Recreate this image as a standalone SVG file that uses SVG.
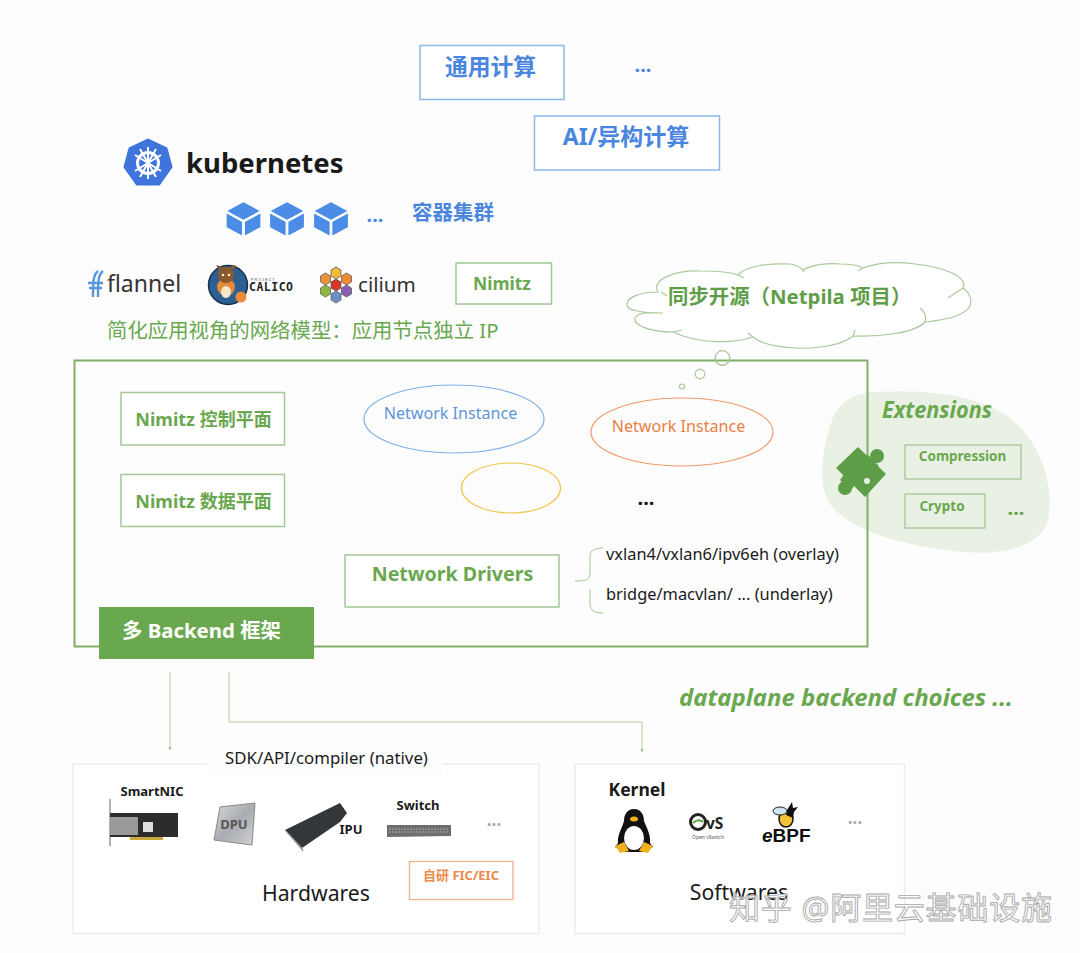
<svg xmlns="http://www.w3.org/2000/svg" width="1080" height="953" viewBox="0 0 1080 953">
<style>
text{font-family:"Noto Sans","Noto Sans CJK SC",sans-serif}
.g{fill:#6aa84f}
.b{fill:#4a86e0}
.bold{font-weight:700}
.bbox{fill:#fff;stroke:#8cb8ea;stroke-width:1.500}
.gbox{fill:#fff;stroke:#a3c795;stroke-width:1.500}
.k{fill:#1a1a1a}
.hw{fill:#fff;stroke:#ececec;stroke-width:1.500}
.cube{fill:#4a8ce6;stroke:#fff;stroke-width:1.200;stroke-linejoin:round}
.cn{fill:none;stroke:#b4cfa6;stroke-width:1}
.cloud{fill:#fff;stroke:#a9c99c;stroke-width:1.200}
.fold{fill:none;stroke:#a9c99c;stroke-width:1.200}
</style>
<defs>
<marker id="arr" viewBox="0 0 6 6" refX="5" refY="3" markerWidth="4" markerHeight="4" orient="auto"><path d="M0 0.500L5 3L0 5.500Z" fill="#93b884"/></marker>
<g id="cubeicon"><path class="cube" d="M0-17.500L17.500-8L0 1.500L-17.500-8Z"/><path class="cube" d="M-17.500-6.500L-0.800 2.500V17.500L-17.500 8.500Z"/><path class="cube" d="M17.500-6.500L0.800 2.500V17.500L17.500 8.500Z"/></g>
<linearGradient id="chip" x1="0" y1="0" x2="1" y2="1"><stop offset="0" stop-color="#d9dadc"/><stop offset="0.500" stop-color="#a9acb0"/><stop offset="1" stop-color="#d0d2d4"/></linearGradient>
</defs>
<rect width="1080" height="953" fill="#fdfdfd"/>

<g id="general-compute"><rect class="bbox" x="420" y="45.500" width="144" height="54"/><text class="b bold" x="490.500" y="75" font-size="22.800" text-anchor="middle">通用计算</text></g>
<g id="top-dots"><text class="b bold" x="643" y="72" font-size="20" text-anchor="middle">...</text></g>
<g id="ai-compute"><rect class="bbox" x="534.500" y="116" width="185" height="54"/><text class="b bold" x="626" y="145" font-size="23" text-anchor="middle">AI/异构计算</text></g>

<g id="kubernetes">
<path d="M148 140L166 148.500L171 167L159 184H137L125 167L130 148.500Z" fill="#3f74dc" stroke="#3f74dc" stroke-width="3" stroke-linejoin="round"/>
<g stroke="#fff" fill="none" stroke-width="2"><circle cx="148" cy="163" r="10.500" stroke-width="3"/><path d="M148 147V179M135 155L161 171M161 155L135 171M140 149L156 177M156 149L140 177"/></g>
<text class="k bold" x="186" y="173" font-size="27.500">kubernetes</text>
</g>
<g id="containers">
<use href="#cubeicon" x="243.500" y="219"/><use href="#cubeicon" x="287" y="219"/><use href="#cubeicon" x="331" y="219"/>
<text class="b bold" x="375" y="222" font-size="20" text-anchor="middle">...</text>
<text class="b bold" x="453" y="220" font-size="20.500" text-anchor="middle">容器集群</text>
</g>

<g id="flannel">
<path d="M98 271C93 275 93 282 93 297M103 271C98 275 98 282 98 297M88 283H103M89 288H102" fill="none" stroke="#5a96dc" stroke-width="2.400"/>
<text x="107" y="292" font-size="23" fill="#333">flannel</text>
</g>
<g id="calico">
<circle cx="228" cy="285" r="19.500" fill="#2d5f93" stroke="#14304e" stroke-width="1.500"/>
<circle cx="226" cy="287" r="9" fill="#e58b3a"/><circle cx="226" cy="275" r="8" fill="#8a5a2c"/><path d="M219 270l-3-5 7 2zM233 270l3-5-7 2z" fill="#8a5a2c"/><ellipse cx="226" cy="292" rx="5" ry="6" fill="#f5e6cc"/><circle cx="223" cy="275" r="1.200" fill="#fff"/><circle cx="229" cy="275" r="1.200" fill="#fff"/>
<circle cx="241" cy="297" r="5.500" fill="#ec8a3b"/>
<text x="249" y="291" font-size="11.500" font-weight="700" fill="#222" style="font-family:'DejaVu Sans Mono',monospace" textLength="44">CALICO</text>
<text x="251" y="281" font-size="3.500" fill="#444" style="font-family:'Liberation Sans',sans-serif" letter-spacing="1.200">PROJECT</text>
</g>
<g id="cilium" stroke="#555" stroke-width="0.700">
<path d="M336 267l5 3v6l-5 3-5-3v-6z" fill="#f0b93a"/>
<path d="M325.500 273l5 3v6l-5 3-5-3v-6z" fill="#e8923a"/>
<path d="M346.500 273l5 3v6l-5 3-5-3v-6z" fill="#ee8a33"/>
<path d="M336 279l5 3v6l-5 3-5-3v-6z" fill="#d8352c"/>
<path d="M325.500 285l5 3v6l-5 3-5-3v-6z" fill="#8db83d"/>
<path d="M346.500 285l5 3v6l-5 3-5-3v-6z" fill="#8a5fb0"/>
<path d="M336 291l5 3v6l-5 3-5-3v-6z" fill="#6c8fc4"/>
<text x="358" y="292" font-size="20.600" fill="#333" stroke="none">cilium</text>
</g>
<g id="nimitz-tag"><rect class="gbox" x="456" y="263" width="95.500" height="41"/><text class="g bold" x="502" y="290" font-size="17.500" text-anchor="middle">Nimitz</text></g>
<g id="app-model"><text class="g" x="107" y="338" font-size="20.400">简化应用视角的网络模型：应用节点独立 IP</text></g>

<g id="cloud">
<path class="cloud" d="M663 313C640 313 626 310 627 304C628 297 640 292 658 292C650 278 680 270 700 271C715 271 730 272 738 275C745 266 770 263 790 264C797 265 800 267 803 270C812 264 830 263 840 264C850 264 858 265 863 268C880 262 900 262 915 264C945 267 968 277 963 288C970 293 972 300 970 306C965 316 945 320 925 322C915 333 880 337 853 336C840 347 810 349 795 348C775 347 760 343 753 337C735 343 700 345 673 332C650 332 633 325 635 318C637 314 642 313 648 313Z"/>
<path class="fold" d="M661 292L667 296M738 275L744 278M803 270L804 272M863 268L858 271M963 288L948 298M925 322C927 316 925 312 920 308M853 336L855 330M753 337L748 333M673 332L682 330"/>
<text x="668" y="304" font-size="20.400" font-weight="700" fill="#5f9e48">同步开源（Netpila 项目）</text>
<circle class="cloud" cx="722.500" cy="358" r="7.300"/>
</g>

<g id="extensions-blob">
<path d="M873 392C920 390 975 392 1010 418C1040 442 1053 480 1049 515C1046 545 1005 556 965 552C915 548 860 535 835 510C815 490 822 450 832 420C838 402 855 393 873 392Z" fill="#e9f1e4"/>
</g>

<g id="main-frame"><rect x="74.500" y="360.500" width="793" height="286" fill="none" stroke="#7fae69" stroke-width="2"/></g>
<g id="thought-bubbles"><circle class="cloud" cx="700" cy="374" r="4.800"/><circle class="cloud" cx="682" cy="386.500" r="2.500"/><path class="fold" d="M715 358a7.300 7.300 0 0 0 14.600 0"/></g>

<g id="control-plane"><rect class="gbox" x="121" y="392.500" width="163.500" height="52.500"/><text class="g bold" x="203.500" y="426" font-size="18" text-anchor="middle">Nimitz 控制平面</text></g>
<g id="data-plane"><rect class="gbox" x="121" y="474.500" width="163.500" height="52"/><text class="g bold" x="203.500" y="508" font-size="18" text-anchor="middle">Nimitz 数据平面</text></g>
<g id="instance-blue"><ellipse cx="454" cy="419" rx="90" ry="34" fill="none" stroke="#7fb0e6" stroke-width="1.200"/><text x="450.500" y="419" font-size="16.100" text-anchor="middle" fill="#5f95d8">Network Instance</text></g>
<g id="instance-orange"><ellipse cx="682" cy="432" rx="91" ry="34" fill="none" stroke="#ee9a68" stroke-width="1.200"/><text x="678.500" y="432" font-size="16.100" text-anchor="middle" fill="#e9803f">Network Instance</text></g>
<g id="instance-yellow"><ellipse cx="511" cy="488" rx="49.500" ry="25" fill="none" stroke="#f0c649" stroke-width="1.200"/></g>
<g id="instance-dots"><text class="k bold" x="646" y="505" font-size="20" text-anchor="middle">...</text></g>
<g id="network-drivers"><rect class="gbox" x="345" y="555" width="214" height="52" stroke-width="2"/><text class="g bold" x="452.500" y="581" font-size="19.600" text-anchor="middle">Network Drivers</text></g>
<g id="driver-list">
<path d="M575 581C584 581 590 581 590 573V556C590 550 595 548 603 548M590 589V604C590 611 595 613 603 613" fill="none" stroke="#a3c795" stroke-width="1"/>
<text class="k" x="606" y="560" font-size="16.400">vxlan4/vxlan6/ipv6eh (overlay)</text>
<text class="k" x="606" y="600" font-size="16.400">bridge/macvlan/ ... (underlay)</text>
</g>
<g id="backend"><rect x="99" y="607" width="215" height="52" fill="#6aa84f"/><text x="201.500" y="638" font-size="20.400" font-weight="700" fill="#fff" text-anchor="middle">多 Backend 框架</text></g>

<g id="extensions">
<text x="882" y="418" font-size="22.500" font-weight="700" font-style="italic" fill="#6aa84f" textLength="110" lengthAdjust="spacingAndGlyphs">Extensions</text>
<g id="puzzle" fill="#5f9e48">
<path d="M858 447L886 474L865 497L836 468Z"/>
<circle cx="877" cy="456" r="7"/><path d="M868 455L879 466L873 470L864 461Z"/>
<circle cx="845" cy="488" r="7"/><path d="M845 473L856 484L850 491L840 480Z"/>
<circle cx="867" cy="481" r="3" fill="#e9f1e4"/>
</g>
<rect x="905" y="445" width="116" height="34" fill="none" stroke="#a3c795" stroke-width="1.300"/>
<text class="g bold" x="962.500" y="461" font-size="13.500" text-anchor="middle">Compression</text>
<rect x="905" y="494" width="80" height="34" fill="none" stroke="#a3c795" stroke-width="1.300"/>
<text class="g bold" x="942" y="511" font-size="13.500" text-anchor="middle">Crypto</text>
<text class="g bold" x="1016" y="515" font-size="20" text-anchor="middle">...</text>
</g>

<g id="connectors">
<path class="cn" d="M170 672V750" marker-end="url(#arr)"/>
<path class="cn" d="M229 672V722H642V752" marker-end="url(#arr)"/>
</g>
<g id="choices"><text x="679" y="706" font-size="23.500" font-weight="700" font-style="italic" fill="#6aa84f" textLength="334" lengthAdjust="spacingAndGlyphs">dataplane backend choices ...</text></g>

<g id="hardwares">
<rect class="hw" x="73" y="764" width="466" height="169.500"/>
<rect x="207" y="752" width="236" height="24" fill="#fdfdfd"/>
<text class="k" x="326.500" y="764" font-size="16.800" text-anchor="middle">SDK/API/compiler (native)</text>
<text class="k bold" x="152" y="796" font-size="13" text-anchor="middle">SmartNIC</text>
<path d="M110 799V846" stroke="#999" stroke-width="1.500"/><rect x="110" y="813" width="68" height="24" fill="#2c2c2c"/><rect x="110" y="817" width="28" height="18" fill="#9a9a9a"/><rect x="143" y="822" width="10" height="10" fill="#ddd"/><rect x="130" y="837" width="33" height="3" fill="#c9a93d"/>
<path d="M220 807L255 803L252 845L214 840Z" fill="url(#chip)" stroke="#888"/><text x="234" y="829" font-size="13" font-weight="700" fill="#555" text-anchor="middle">DPU</text>
<path d="M285 830L340 803L347 813L340 822L302 848Z" fill="#33373a"/><path d="M285 830L302 848L303 851Z" fill="#999" stroke="#999"/>
<text class="k bold" x="351" y="834" font-size="13" text-anchor="middle">IPU</text>
<text class="k bold" x="418" y="810" font-size="13" text-anchor="middle">Switch</text>
<path d="M387 825H451V836L387 837Z" fill="#6e6e6e"/><path d="M389 829H449M389 832H449" stroke="#aaa" stroke-width="1" stroke-dasharray="2 1"/>
<text x="494" y="826" font-size="17" fill="#aaa" font-weight="700" text-anchor="middle">...</text>
<rect x="409.500" y="861.500" width="103.500" height="38" fill="none" stroke="#efb28a" stroke-width="1.300"/>
<text x="461" y="880" font-size="13" font-weight="700" fill="#ee8a4a" text-anchor="middle">自研 FIC/EIC</text>
<text class="k" x="316" y="901" font-size="21.200" text-anchor="middle">Hardwares</text>
</g>

<g id="softwares">
<rect class="hw" x="575" y="764" width="329.500" height="169.500"/>
<text class="k bold" x="637" y="796" font-size="17.500" text-anchor="middle">Kernel</text>
<path d="M634 809C641 809 644 815 644 821C647 828 651 836 650 843L653 847L643 852H625L615 847L618 843C617 836 622 828 624 821C624 815 627 809 634 809Z" fill="#111"/>
<ellipse cx="634" cy="838" rx="10" ry="12" fill="#fff"/>
<ellipse cx="634" cy="819" rx="4" ry="2.500" fill="#f2b01e"/>
<path d="M615 846L624 842L629 851L620 853ZM653 846L644 842L639 851L648 853Z" fill="#f2b01e"/>
<circle cx="698" cy="822" r="7.500" fill="none" stroke="#222" stroke-width="3"/><path d="M693 823q5-5 10-1" stroke="#5aa83c" stroke-width="2" fill="none"/>
<text x="706" y="829" font-size="15.500" font-weight="700" fill="#222">vS</text>
<text x="692" y="838.500" font-size="5" fill="#555">Open vSwitch</text>
<ellipse cx="786" cy="819" rx="7" ry="8" fill="#f2c232" stroke="#111" stroke-width="1.500"/><path d="M787 810l5-8 1 6 5-1-4 5-1 6-7-3z" fill="#111"/><ellipse cx="780" cy="811" rx="7" ry="4" fill="#cfe3f2" stroke="#222"/>
<text x="762" y="842" font-size="19" font-weight="700" fill="#111" style="font-family:'Liberation Sans',sans-serif"><tspan font-style="italic">e</tspan>BPF</text>
<text x="855" y="824" font-size="17" fill="#aaa" font-weight="700" text-anchor="middle">...</text>
<text class="k" x="739" y="900" font-size="21.200" text-anchor="middle">Softwares</text>
</g>

<g id="watermark"><text x="729" y="919" font-size="31" fill="#fff" fill-opacity="0.750" stroke="#a8a8a8" stroke-width="0.900" letter-spacing="0.800">知乎 @阿里云基础设施</text></g>
</svg>
